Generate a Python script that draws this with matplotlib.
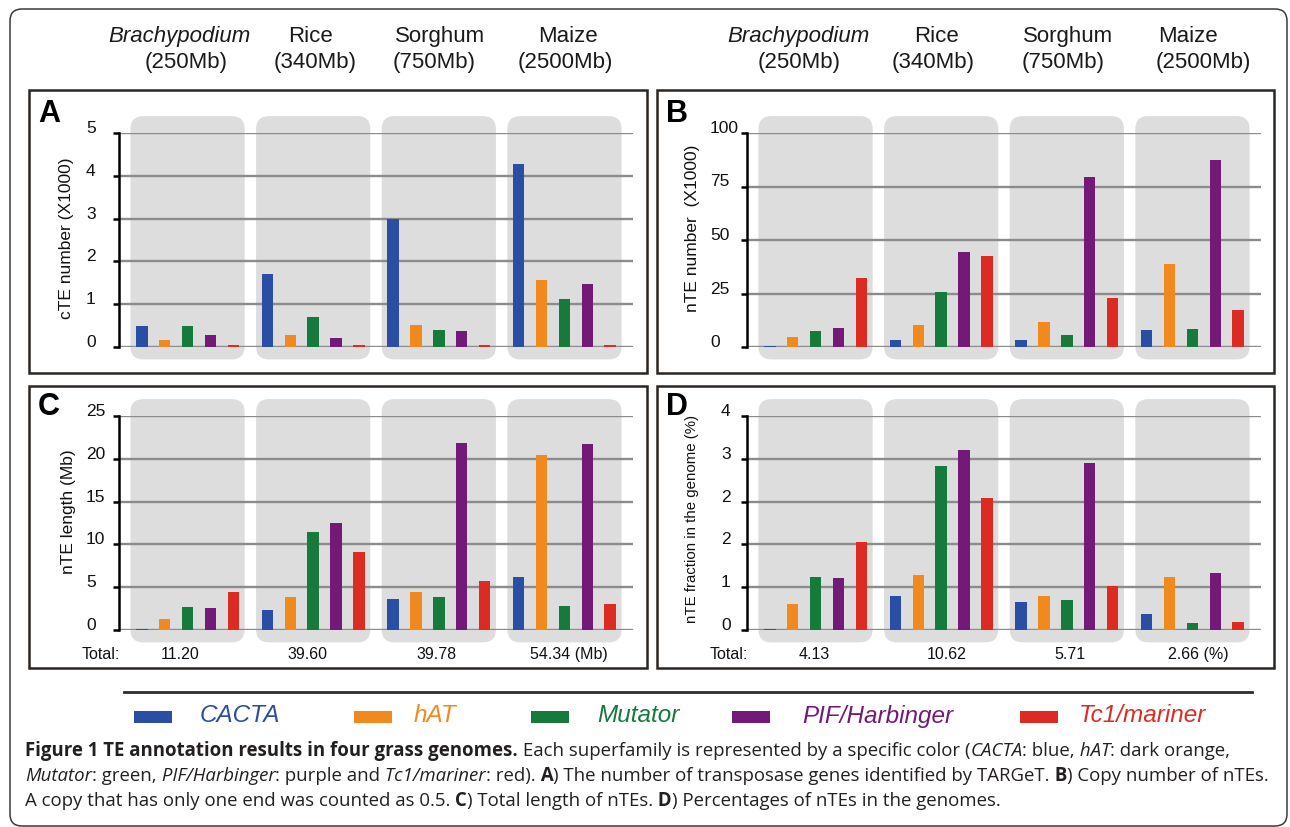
import matplotlib
matplotlib.use('Agg')
import matplotlib.pyplot as plt
from matplotlib.patches import FancyBboxPatch, Rectangle
from matplotlib.lines import Line2D
from matplotlib.text import Annotation
from matplotlib import font_manager

W, H, DPI = 1290, 827, 100

# ---------------- data ----------------
genomes = ['Brachypodium', 'Rice', 'Sorghum', 'Maize']
genome_sizes = ['(250Mb)', '(340Mb)', '(750Mb)', '(2500Mb)']
families = ['CACTA', 'hAT', 'Mutator', 'PIF/Harbinger', 'Tc1/mariner']
family_colors = ['#2a4ea3', '#f08a1f', '#157a3b', '#731a78', '#dc2b23']

# rows = families (CACTA, hAT, Mutator, PIF/Harbinger, Tc1/mariner), cols = genomes
cte_number = [[0.48, 1.71, 3.00, 4.28],
              [0.17, 0.27, 0.51, 1.56],
              [0.48, 0.69, 0.39, 1.12],
              [0.29, 0.20, 0.37, 1.47],
              [0.04, 0.04, 0.05, 0.04]]
nte_number = [[0.3, 3.1, 3.4, 7.8],
              [4.5, 10.3, 11.7, 38.9],
              [7.3, 25.5, 5.6, 8.4],
              [8.9, 44.2, 79.3, 87.4],
              [32.2, 42.7, 22.7, 17.3]]
nte_length = [[0.10, 2.34, 3.66, 6.19],
              [1.29, 3.86, 4.44, 20.44],
              [2.65, 11.45, 3.82, 2.76],
              [2.57, 12.54, 21.88, 21.73],
              [4.44, 9.15, 5.72, 3.08]]
nte_fraction = [[0.02, 0.63, 0.53, 0.30],
                [0.49, 1.03, 0.64, 0.99],
                [0.99, 3.07, 0.56, 0.13],
                [0.97, 3.36, 3.13, 1.06],
                [1.64, 2.46, 0.83, 0.15]]

yticks_A = [0, 1, 2, 3, 4, 5]
yticks_B = [0, 25, 50, 75, 100]
yticks_C = [0, 5, 10, 15, 20, 25]
yticks_D = [0, 0.8, 1.6, 2.4, 3.2, 4.0]
yticklabels_D = ['0', '1', '2', '2', '3', '4']

totals_C = ['Total:', '11.20', '39.60', '39.78', '54.34 (Mb)']
totals_D = ['Total:', '4.13', '10.62', '5.71', '2.66 (%)']

# ---------------- helpers ----------------
plt.rcParams['font.family'] = ['Liberation Sans', 'DejaVu Sans']


def fx(x):
    return x / W


def fy(y):
    return 1 - y / H


def has_font(name):
    try:
        font_manager.findfont(font_manager.FontProperties(family=name),
                              fallback_to_default=False)
        return True
    except Exception:
        return False


fig = plt.figure(figsize=(W / DPI, H / DPI), dpi=DPI)
fig.patch.set_facecolor('white')

# outer rounded frame
outer = FancyBboxPatch((fx(10), fy(826)), fx(1287) - fx(10), fy(9) - fy(826),
                       boxstyle="round,pad=0,rounding_size=%f" % (12 / W),
                       mutation_aspect=W / H, transform=fig.transFigure,
                       fc='none', ec='#3a3a3a', lw=1.1, zorder=0)
fig.add_artist(outer)

# panel frames
panel_boxes = {'A': (29, 90, 647, 373), 'B': (657, 90, 1274, 373),
               'C': (29, 386, 647, 668), 'D': (657, 386, 1274, 668)}
for key, (x0, y0, x1, y1) in panel_boxes.items():
    fig.add_artist(Rectangle((fx(x0), fy(y1)), fx(x1) - fx(x0), fy(y0) - fy(y1),
                             transform=fig.transFigure, fc='none',
                             ec='#2b2522', lw=1.8, zorder=1))

panels = [
    dict(key='A', data=cte_number, ax_px=(119, 133, 633, 347), ymax=5,
         yticks=yticks_A, yticklabels=[str(t) for t in yticks_A],
         ylabel='cTE number (X1000)', ylab_pos=(66, 238), ylab_size=12.5,
         lab_left=86, letter=(38, 122)),
    dict(key='B', data=nte_number, ax_px=(747, 133, 1261, 347), ymax=100,
         yticks=yticks_B, yticklabels=[str(t) for t in yticks_B],
         ylabel='nTE number  (X1000)', ylab_pos=(692, 228), ylab_size=12.5,
         lab_left=710, letter=(666, 122)),
    dict(key='C', data=nte_length, ax_px=(119, 416, 633, 630), ymax=25,
         yticks=yticks_C, yticklabels=[str(t) for t in yticks_C],
         ylabel='nTE length (Mb)', ylab_pos=(68, 512), ylab_size=12.5,
         lab_left=86, letter=(38, 415)),
    dict(key='D', data=nte_fraction, ax_px=(747, 416, 1261, 630), ymax=4.0,
         yticks=yticks_D, yticklabels=yticklabels_D,
         ylabel='nTE fraction in the genome (%)', ylab_pos=(692, 519),
         ylab_size=10.8, lab_left=721, letter=(666, 415)),
]

GROUP_STEP = 5.5
BAR_W = 0.5
XMIN, XMAX = -1, 21.5
TICK_LEN_PT = 4.5

for p in panels:
    x0, y0, x1, y1 = p['ax_px']
    ax = fig.add_axes([fx(x0), fy(y1), fx(x1) - fx(x0), fy(y0) - fy(y1)])
    ax.set_xlim(XMIN, XMAX)
    ax.set_ylim(0, p['ymax'])
    ax.patch.set_visible(False)

    px_x = (x1 - x0) / (XMAX - XMIN)
    px_y = (y1 - y0) / p['ymax']
    aspect = px_x / px_y
    yb, yt = -0.058 * p['ymax'], 1.079 * p['ymax']
    for g in range(len(genomes)):
        box = FancyBboxPatch((g * GROUP_STEP - 0.5, yb), 5.0, yt - yb,
                             boxstyle="round,pad=0,rounding_size=%f" % (13 / px_x),
                             mutation_aspect=aspect, transform=ax.transData,
                             fc='#dcdddc', ec='none', clip_on=False, zorder=0.1)
        ax.add_patch(box)

    for i, (fam, col) in enumerate(zip(families, family_colors)):
        xs = [g * GROUP_STEP + i for g in range(len(genomes))]
        ax.bar(xs, p['data'][i], width=BAR_W, color=col, zorder=3,
               edgecolor='none')

    ax.set_yticks(p['yticks'])
    ax.set_yticklabels(p['yticklabels'])
    ax.set_xticks([])
    ax.yaxis.grid(True, color='#8b8b8b', lw=1.7)
    ax.set_axisbelow(True)
    for s in ['top', 'right', 'bottom']:
        ax.spines[s].set_visible(False)
    ax.spines['left'].set_linewidth(1.8)
    ax.spines['left'].set_color('black')
    ax.spines['left'].set_zorder(4)
    pad_px = (x0 - p['lab_left']) - TICK_LEN_PT * DPI / 72
    ax.tick_params(axis='y', direction='out', length=TICK_LEN_PT, width=1.8,
                   color='black', labelsize=12.5, pad=pad_px * 72 / DPI,
                   labelcolor='#111111')
    for t in ax.get_yticklabels():
        t.set_ha('left')
        t.set_va('baseline')

    fig.text(fx(p['ylab_pos'][0]), fy(p['ylab_pos'][1]), p['ylabel'],
             rotation=90, ha='center', va='center', fontsize=p['ylab_size'],
             color='#111111')
    fig.text(fx(p['letter'][0]), fy(p['letter'][1]), p['key'], fontsize=22,
             fontweight='bold', ha='left', va='baseline', color='black')

# header genome names
name_centers_left = [179, 310, 440, 568]
size_centers_left = [186, 315, 434, 565]
name_centers_right = [798, 936, 1068, 1188]
size_centers_right = [799, 933, 1063, 1203]
for centers_n, centers_s in [(name_centers_left, size_centers_left),
                             (name_centers_right, size_centers_right)]:
    for i, (gname, gsize) in enumerate(zip(genomes, genome_sizes)):
        fig.text(fx(centers_n[i]), fy(42), gname, fontsize=16, ha='center',
                 va='baseline', style='italic' if i == 0 else 'normal',
                 color='#1a1a1a')
        fig.text(fx(centers_s[i]), fy(68), gsize, fontsize=16, ha='center',
                 va='baseline', color='#1a1a1a')

# totals rows
totals_x_C = [82, 161, 287, 416, 530]
totals_x_D = [710, 799, 927, 1054, 1168]
for labels, xs in [(totals_C, totals_x_C), (totals_D, totals_x_D)]:
    for s, x in zip(labels, xs):
        fig.text(fx(x), fy(659), s, fontsize=11.5, ha='left', va='baseline',
                 color='#111111')

# legend
fig.add_artist(Line2D([fx(124), fx(1252)], [fy(691.5), fy(691.5)],
                      transform=fig.transFigure, color='#2b2b2b', lw=2.0))
legend_rect_x = [134, 354, 531, 732, 1020]
legend_text_x = [200, 414, 597, 802, 1079]
for fam, col, rx, tx in zip(families, family_colors, legend_rect_x, legend_text_x):
    fig.add_artist(Rectangle((fx(rx), fy(723)), fx(rx + 38) - fx(rx),
                             fy(711) - fy(723), transform=fig.transFigure,
                             fc=col, ec='none'))
    fig.text(fx(tx), fy(722.5), fam, fontsize=17.5, style='italic',
             color=col, ha='left', va='baseline')

# caption
cap_family = 'Liberation Sans Narrow' if has_font('Liberation Sans Narrow') else 'Open Sans'
cap_lines = [
    [("Figure 1 TE annotation results in four grass genomes.", 'bold'),
     (" Each superfamily is represented by a specific color (", 'normal'),
     ("CACTA", 'italic'), (": blue,", 'normal'), (" hAT", 'italic'),
     (": dark orange,", 'normal')],
    [("Mutator", 'italic'), (": green,", 'normal'), (" PIF/Harbinger", 'italic'),
     (": purple and", 'normal'), (" Tc1/mariner", 'italic'), (": red).", 'normal'),
     (" A", 'bold'), (") The number of transposase genes identified by TARGeT.", 'normal'),
     (" B", 'bold'), (") Copy number of nTEs.", 'normal')],
    [("A copy that has only one end was counted as 0.5.", 'normal'),
     (" C", 'bold'), (") Total length of nTEs.", 'normal'), (" D", 'bold'),
     (") Percentages of nTEs in the genomes.", 'normal')],
]
cap_baselines = [756, 781, 806]
CAP_X = 25
cap_size = 13.0
cap_artists = []
line_last = []
for line, base in zip(cap_lines, cap_baselines):
    prev = None
    for s, style in line:
        kw = dict(fontsize=cap_size, family=[cap_family, 'DejaVu Sans'],
                  color='#231f20', ha='left', va='baseline')
        if style == 'bold':
            kw['fontweight'] = 'bold'
        elif style == 'italic':
            kw['style'] = 'italic'
        if prev is None:
            t = fig.text(fx(CAP_X), fy(base), s, **kw)
        else:
            t = Annotation(s, xy=(1, fy(base)), xycoords=(prev, 'figure fraction'),
                           **kw)
            fig.add_artist(t)
        cap_artists.append(t)
        prev = t
    line_last.append(prev)

fig.canvas.draw()
r = fig.canvas.get_renderer()
right = max(t.get_window_extent(r).x1 for t in line_last[:2])
factor = (1262 - CAP_X) / (right - CAP_X)
for t in cap_artists:
    t.set_fontsize(cap_size * factor)

fig.savefig('out.png', dpi=DPI, facecolor='white')
